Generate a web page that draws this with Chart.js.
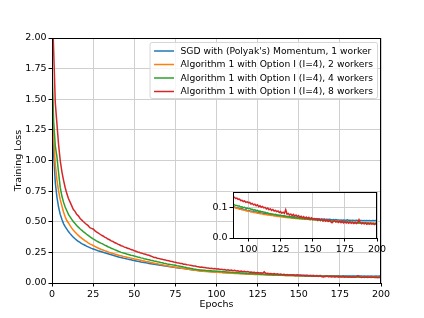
<!DOCTYPE html>
<html>
<head>
<meta charset="utf-8">
<script src="https://cdn.jsdelivr.net/npm/chart.js@4.4.1/dist/chart.umd.min.js"></script>
<style>
  body { margin: 0; background: #fff; }
  #wrap { position: relative; width: 424px; height: 318px; }
  #main { position: absolute; left: 0; top: 0; }
  #inset { position: absolute; left: 200px; top: 180px; }
</style>
</head>
<body>
<div id="wrap">
  <canvas id="main" width="424" height="318"></canvas>
  <canvas id="inset" width="190" height="80"></canvas>
</div>
<script>
// epochs 0..200
const epochs = Array.from({ length: 201 }, (_, i) => i);

const seriesNames = [
  "SGD with (Polyak's) Momentum, 1 worker",
  "Algorithm 1 with Option I (I=4), 2 workers",
  "Algorithm 1 with Option I (I=4), 4 workers",
  "Algorithm 1 with Option I (I=4), 8 workers",
];
const seriesColors = ["#1f77b4", "#ff7f0e", "#2ca02c", "#d62728"];

const lossW1 = [
  1.52, 1.05, 0.82, 0.70, 0.62, 0.56, 0.52, 0.485, 0.46, 0.44, 0.42,
  0.403, 0.388, 0.374, 0.361, 0.35, 0.34, 0.331, 0.322, 0.315, 0.308,
  0.301, 0.295, 0.289, 0.283, 0.278, 0.273, 0.268, 0.263, 0.259, 0.255,
  0.251, 0.247, 0.243, 0.239, 0.235, 0.231, 0.227, 0.223, 0.219, 0.215,
  0.211, 0.208, 0.204, 0.201, 0.198, 0.195, 0.192, 0.189, 0.186, 0.183,
  0.180, 0.177, 0.175, 0.172, 0.170, 0.167, 0.165, 0.163, 0.160, 0.158,
  0.156, 0.154, 0.151, 0.149, 0.147, 0.145, 0.143, 0.141, 0.139, 0.137,
  0.135, 0.133, 0.131, 0.129, 0.127, 0.125, 0.123, 0.121, 0.120, 0.118,
  0.117, 0.115, 0.113, 0.111, 0.109, 0.107, 0.105, 0.103, 0.101, 0.099,
  0.098, 0.098, 0.096, 0.095, 0.095, 0.093, 0.092, 0.092, 0.090, 0.089,
  0.089, 0.087, 0.087, 0.086, 0.085, 0.085, 0.083, 0.083, 0.082, 0.081,
  0.081, 0.080, 0.079, 0.080, 0.078, 0.077, 0.078, 0.076, 0.076, 0.075,
  0.075, 0.074, 0.073, 0.074, 0.072, 0.072, 0.071, 0.072, 0.070, 0.070,
  0.070, 0.069, 0.069, 0.068, 0.069, 0.067, 0.068, 0.067, 0.066, 0.067,
  0.066, 0.065, 0.066, 0.065, 0.064, 0.065, 0.064, 0.063, 0.064, 0.063,
  0.063, 0.063, 0.062, 0.063, 0.062, 0.061, 0.062, 0.061, 0.062, 0.060,
  0.061, 0.060, 0.061, 0.060, 0.059, 0.060, 0.059, 0.060, 0.059, 0.059,
  0.058, 0.059, 0.058, 0.059, 0.058, 0.058, 0.059, 0.057, 0.058, 0.057,
  0.058, 0.057, 0.057, 0.058, 0.057, 0.056, 0.057, 0.057, 0.056, 0.057,
  0.056, 0.057, 0.056, 0.057, 0.056, 0.056, 0.057, 0.056, 0.057, 0.056,
];

const lossW2 = [
  1.66, 1.18, 0.97, 0.84, 0.75, 0.68, 0.63, 0.58, 0.54, 0.51, 0.49,
  0.468, 0.448, 0.431, 0.416, 0.402, 0.389, 0.377, 0.366, 0.356, 0.346,
  0.337, 0.328, 0.320, 0.313, 0.306, 0.299, 0.292, 0.286, 0.280, 0.274,
  0.269, 0.264, 0.259, 0.254, 0.249, 0.245, 0.241, 0.237, 0.233, 0.229,
  0.225, 0.222, 0.218, 0.215, 0.212, 0.209, 0.206, 0.203, 0.200, 0.197,
  0.194, 0.191, 0.188, 0.185, 0.182, 0.179, 0.176, 0.174, 0.171, 0.168,
  0.165, 0.162, 0.159, 0.157, 0.154, 0.151, 0.149, 0.146, 0.143, 0.141,
  0.138, 0.135, 0.133, 0.131, 0.128, 0.126, 0.124, 0.122, 0.120, 0.118,
  0.116, 0.114, 0.112, 0.110, 0.108, 0.106, 0.104, 0.102, 0.100, 0.098,
  0.097, 0.096, 0.094, 0.094, 0.092, 0.091, 0.091, 0.089, 0.088, 0.087,
  0.087, 0.085, 0.085, 0.083, 0.083, 0.082, 0.081, 0.081, 0.079, 0.079,
  0.078, 0.077, 0.077, 0.076, 0.075, 0.075, 0.074, 0.073, 0.073, 0.072,
  0.072, 0.071, 0.070, 0.070, 0.069, 0.069, 0.068, 0.068, 0.067, 0.067,
  0.066, 0.066, 0.065, 0.066, 0.064, 0.065, 0.063, 0.064, 0.063, 0.063,
  0.062, 0.063, 0.061, 0.062, 0.061, 0.061, 0.060, 0.061, 0.060, 0.060,
  0.059, 0.060, 0.059, 0.058, 0.059, 0.058, 0.058, 0.057, 0.058, 0.057,
  0.057, 0.056, 0.057, 0.056, 0.056, 0.055, 0.056, 0.055, 0.055, 0.054,
  0.055, 0.054, 0.054, 0.053, 0.054, 0.053, 0.053, 0.052, 0.053, 0.052,
  0.052, 0.052, 0.051, 0.052, 0.051, 0.051, 0.050, 0.051, 0.050, 0.050,
  0.050, 0.049, 0.050, 0.049, 0.049, 0.048, 0.049, 0.048, 0.048, 0.048,
];

const lossW4 = [
  1.78, 1.32, 1.12, 1.03, 0.90, 0.78, 0.71, 0.66, 0.62, 0.59, 0.56,
  0.54, 0.52, 0.50, 0.485, 0.47, 0.456, 0.443, 0.431, 0.42, 0.41,
  0.398, 0.388, 0.378, 0.369, 0.36, 0.352, 0.344, 0.337, 0.33, 0.323,
  0.317, 0.309, 0.304, 0.296, 0.291, 0.284, 0.279, 0.272, 0.267, 0.261,
  0.256, 0.250, 0.247, 0.242, 0.239, 0.234, 0.231, 0.227, 0.224, 0.220,
  0.217, 0.212, 0.210, 0.205, 0.203, 0.198, 0.196, 0.192, 0.189, 0.185,
  0.183, 0.179, 0.177, 0.173, 0.171, 0.167, 0.165, 0.161, 0.159, 0.156,
  0.154, 0.151, 0.149, 0.146, 0.144, 0.141, 0.139, 0.136, 0.134, 0.131,
  0.129, 0.125, 0.123, 0.120, 0.118, 0.115, 0.113, 0.110, 0.109, 0.106,
  0.106, 0.104, 0.104, 0.101, 0.102, 0.099, 0.100, 0.097, 0.098, 0.096,
  0.096, 0.094, 0.094, 0.091, 0.092, 0.089, 0.090, 0.087, 0.088, 0.086,
  0.086, 0.084, 0.084, 0.081, 0.082, 0.079, 0.080, 0.078, 0.078, 0.076,
  0.077, 0.075, 0.075, 0.073, 0.074, 0.072, 0.073, 0.071, 0.071, 0.069,
  0.070, 0.068, 0.069, 0.066, 0.068, 0.065, 0.067, 0.064, 0.066, 0.063,
  0.065, 0.062, 0.064, 0.062, 0.063, 0.061, 0.062, 0.060, 0.062, 0.059,
  0.061, 0.059, 0.060, 0.057, 0.060, 0.057, 0.059, 0.056, 0.058, 0.056,
  0.058, 0.055, 0.057, 0.054, 0.056, 0.054, 0.056, 0.053, 0.055, 0.052,
  0.055, 0.052, 0.054, 0.051, 0.053, 0.051, 0.053, 0.050, 0.052, 0.050,
  0.052, 0.049, 0.051, 0.049, 0.051, 0.048, 0.050, 0.048, 0.050, 0.047,
  0.050, 0.047, 0.049, 0.047, 0.049, 0.047, 0.048, 0.046, 0.048, 0.047,
];

const lossW8 = [
  2.30, 1.90, 1.47, 1.30, 1.13, 1.00, 0.91, 0.84, 0.78, 0.73, 0.69,
  0.66, 0.63, 0.60, 0.585, 0.56, 0.548, 0.529, 0.515, 0.502, 0.49,
  0.478, 0.468, 0.452, 0.446, 0.441, 0.428, 0.418, 0.409, 0.400, 0.391,
  0.384, 0.374, 0.368, 0.359, 0.353, 0.344, 0.339, 0.330, 0.325, 0.317,
  0.312, 0.304, 0.301, 0.293, 0.290, 0.283, 0.280, 0.273, 0.270, 0.263,
  0.260, 0.253, 0.251, 0.244, 0.242, 0.236, 0.234, 0.228, 0.226, 0.220,
  0.215, 0.209, 0.208, 0.202, 0.201, 0.195, 0.194, 0.189, 0.188, 0.183,
  0.182, 0.177, 0.176, 0.171, 0.170, 0.165, 0.164, 0.159, 0.159, 0.154,
  0.153, 0.149, 0.148, 0.144, 0.143, 0.139, 0.138, 0.134, 0.133, 0.129,
  0.130, 0.126, 0.127, 0.122, 0.123, 0.119, 0.121, 0.116, 0.118, 0.115,
  0.116, 0.111, 0.113, 0.108, 0.110, 0.105, 0.108, 0.102, 0.105, 0.100,
  0.103, 0.098, 0.100, 0.095, 0.098, 0.092, 0.095, 0.090, 0.093, 0.088,
  0.090, 0.086, 0.088, 0.083, 0.086, 0.081, 0.084, 0.080, 0.092, 0.078,
  0.080, 0.075, 0.078, 0.073, 0.077, 0.071, 0.075, 0.070, 0.073, 0.068,
  0.071, 0.066, 0.070, 0.064, 0.068, 0.063, 0.067, 0.062, 0.066, 0.061,
  0.064, 0.060, 0.063, 0.058, 0.062, 0.057, 0.061, 0.056, 0.060, 0.055,
  0.059, 0.054, 0.058, 0.053, 0.050, 0.054, 0.056, 0.052, 0.055, 0.051,
  0.055, 0.050, 0.054, 0.049, 0.053, 0.049, 0.052, 0.048, 0.052, 0.048,
  0.051, 0.047, 0.051, 0.047, 0.050, 0.060, 0.050, 0.046, 0.049, 0.046,
  0.049, 0.045, 0.048, 0.045, 0.048, 0.045, 0.047, 0.044, 0.047, 0.045,
];

const xTicks = [0, 25, 50, 75, 100, 125, 150, 175, 200];
const yTicks = [0, 0.25, 0.5, 0.75, 1.0, 1.25, 1.5, 1.75, 2.0];
const insetXTicks = [100, 125, 150, 175, 200];
const insetYTicks = [0, 0.1];

const allLoss = [lossW1, lossW2, lossW4, lossW8];
const FONT = "'DejaVu Sans', sans-serif";
const GRID = "#cfcfcf";

function makeSets(width) {
  return allLoss.map((vals, i) => ({
    label: seriesNames[i],
    data: vals.map((v, j) => ({ x: epochs[j], y: v })),
    borderColor: seriesColors[i],
    borderWidth: width,
    pointRadius: 0,
    tension: 0,
    fill: false,
    clip: 0,
    order: 3 - i,
  }));
}

const framePlugin = {
  id: "frame",
  beforeDraw(chart, args, opts) {
    if (!opts.fill) return;
    const a = chart.chartArea;
    chart.ctx.save();
    chart.ctx.fillStyle = "#fff";
    chart.ctx.fillRect(a.left, a.top, a.right - a.left, a.bottom - a.top);
    chart.ctx.restore();
  },
  afterDraw(chart) {
    const a = chart.chartArea;
    const ctx = chart.ctx;
    ctx.save();
    ctx.strokeStyle = "#000";
    ctx.lineWidth = 1;
    ctx.strokeRect(a.left + 0.5, a.top + 0.5, a.right - a.left - 1, a.bottom - a.top);
    ctx.restore();
  },
};

const legendPlugin = {
  id: "legendBox",
  afterDraw(chart) {
    const ctx = chart.ctx;
    const a = chart.chartArea;
    const sets = chart.data.datasets;
    ctx.save();
    ctx.font = "9.2px " + FONT;
    const tw = Math.max(...sets.map((d) => ctx.measureText(d.label).width));
    const w = 31 + tw + 4;
    const h = 56;
    const x0 = a.right - 4 - w;
    const y0 = a.top + 4;
    ctx.beginPath();
    ctx.roundRect(x0 + 0.5, y0 + 0.5, w, h, 2);
    ctx.fillStyle = "rgba(255,255,255,0.8)";
    ctx.fill();
    ctx.strokeStyle = "#d6d6d6";
    ctx.lineWidth = 1;
    ctx.stroke();
    sets.forEach((d, i) => {
      const yy = y0 + 9 + i * 13.5;
      ctx.beginPath();
      ctx.moveTo(x0 + 4.5, yy);
      ctx.lineTo(x0 + 24.5, yy);
      ctx.strokeStyle = d.borderColor;
      ctx.lineWidth = 1.5;
      ctx.stroke();
      ctx.fillStyle = "#000";
      ctx.textBaseline = "middle";
      ctx.fillText(d.label, x0 + 31, yy + 0.5);
    });
    ctx.restore();
  },
};

function axis(min, max, ticks, fmt, size, title, titlePad) {
  return {
    type: "linear",
    min,
    max,
    afterBuildTicks: (s) => { s.ticks = ticks.map((v) => ({ value: v })); },
    grid: { color: GRID, lineWidth: 1, tickColor: "#000", tickLength: 3.5, drawTicks: true },
    border: { display: false },
    ticks: { color: "#000", font: { family: FONT, size }, padding: 2, maxRotation: 0, callback: fmt },
    title: title
      ? { display: true, text: title, color: "#000", font: { family: FONT, size }, padding: titlePad }
      : { display: false },
  };
}

const mainX = axis(0, 200, xTicks, (v) => String(v), 9.5, "Epochs", { top: 0, bottom: 8 });
mainX.afterFit = (s) => { s.height = 35; };
const mainY = axis(0, 2, yTicks, (v) => v.toFixed(2), 9.5, "Training Loss", { top: 13, bottom: 0 });
mainY.afterFit = (s) => { s.width = 52; };

new Chart(document.getElementById("main"), {
  type: "line",
  data: { datasets: makeSets(1.5) },
  options: {
    responsive: false,
    animation: false,
    devicePixelRatio: 1,
    layout: { autoPadding: false, padding: { left: 0, top: 38, right: 43, bottom: 0 } },
    plugins: { legend: { display: false }, tooltip: { enabled: false }, frame: { fill: false } },
    scales: { x: mainX, y: mainY },
  },
  plugins: [framePlugin, legendPlugin],
});

const insX = axis(88, 200, insetXTicks, (v) => String(v), 9.5, null);
insX.afterFit = (s) => { s.height = 22; };
const insY = axis(0, 0.15, insetYTicks, (v) => v.toFixed(1), 9.5, null);
insY.afterFit = (s) => { s.width = 33; };

new Chart(document.getElementById("inset"), {
  type: "line",
  data: { datasets: makeSets(1.5) },
  options: {
    responsive: false,
    animation: false,
    devicePixelRatio: 1,
    layout: { autoPadding: false, padding: { left: 0, top: 12, right: 13, bottom: 0 } },
    plugins: { legend: { display: false }, tooltip: { enabled: false }, frame: { fill: true } },
    scales: { x: insX, y: insY },
  },
  plugins: [framePlugin],
});
</script>
</body>
</html>
